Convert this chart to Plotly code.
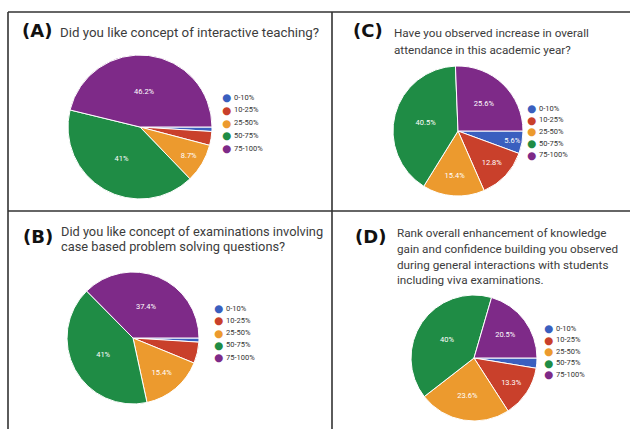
import plotly.graph_objects as go

W, H = 630, 429

categories = ["0-10%", "10-25%", "25-50%", "50-75%", "75-100%"]
colors = ["#3a5fbf", "#c9402b", "#ec9a2e", "#1f8c45", "#7e2a88"]

values_A = [1.0, 3.1, 8.7, 41.0, 46.2]
values_B = [1.0, 5.2, 15.4, 41.0, 37.4]
values_C = [5.6, 12.8, 15.4, 40.5, 25.6]
values_D = [2.6, 13.3, 23.6, 40.0, 20.5]

letter_A, letter_B, letter_C, letter_D = "(A)", "(B)", "(C)", "(D)"
title_A = ["Did you like concept of interactive teaching?"]
title_B = ["Did you like concept of examinations involving",
           "case based problem solving questions?"]
title_C = ["Have you observed increase in overall",
           "attendance in this academic year?"]
title_D = ["Rank overall enhancement of knowledge",
           "gain and confidence building you observed",
           "during general interactions with students",
           "including viva examinations."]


def px(x):
    return x / W


def py(y):
    return 1 - y / H


panels = [
    dict(v=values_A, letter=letter_A, title=title_A, box=(68, 212, 55, 199), lpos=(20, 31),
         tx=58, tys=[33], tsize=13.3, lgx=226, lgy=97, lgs=12.8),
    dict(v=values_B, letter=letter_B, title=title_B, box=(66, 200, 272, 404), lpos=(21, 236),
         tx=59, tys=[231.5, 246.5], tsize=12.8, lgx=218, lgy=308, lgs=12.3),
    dict(v=values_C, letter=letter_C, title=title_C, box=(393, 523, 66, 196), lpos=(351, 31),
         tx=392, tys=[33, 50], tsize=11.7, lgx=531, lgy=108, lgs=11.7),
    dict(v=values_D, letter=letter_D, title=title_D, box=(411, 537, 294, 422), lpos=(353, 236),
         tx=395, tys=[233, 249, 265, 280], tsize=11.7, lgx=548, lgy=328, lgs=11.5),
]

fig = go.Figure()
annotations = []

for p in panels:
    x0, x1, y0, y1 = p["box"]
    texts = [f"{v:g}%" if v >= 5.5 else "" for v in p["v"]]
    fig.add_trace(go.Pie(
        labels=categories, values=p["v"], text=texts, textinfo="text",
        sort=False, direction="clockwise", rotation=90,
        marker=dict(colors=colors, line=dict(color="white", width=1)),
        textposition="inside", insidetextorientation="horizontal",
        textfont=dict(color="white", size=7.5, family="Roboto"),
        domain=dict(x=[px(x0), px(x1)], y=[py(y1), py(y0)]),
        showlegend=False, hoverinfo="label+percent",
    ))
    lx, ly = p["lpos"]
    annotations.append(dict(x=px(lx), y=py(ly), xref="paper", yref="paper",
                            xanchor="left", yanchor="middle", showarrow=False,
                            text=f"<b>{p['letter']}</b>",
                            font=dict(family="DejaVu Sans", size=18, color="#111")))
    for line, ty in zip(p["title"], p["tys"]):
        annotations.append(dict(x=px(p["tx"]), y=py(ty), xref="paper", yref="paper",
                                xanchor="left", yanchor="middle", showarrow=False,
                                text=line,
                                font=dict(family="Roboto", size=p["tsize"], color="#3c3c3c")))
    for i, (cat, col) in enumerate(zip(categories, colors)):
        yy = p["lgy"] + i * p["lgs"]
        annotations.append(dict(x=px(p["lgx"]), y=py(yy), xref="paper", yref="paper",
                                xanchor="center", yanchor="middle", showarrow=False,
                                text="●", font=dict(size=10.5, color=col, family="DejaVu Sans")))
        annotations.append(dict(x=px(p["lgx"] + 6), y=py(yy), xref="paper", yref="paper",
                                xanchor="left", yanchor="middle", showarrow=False,
                                text=cat, font=dict(size=7.5, color="#333", family="Roboto")))

line_style = dict(color="#333", width=1.6)
shapes = [
    dict(type="line", xref="paper", yref="paper", x0=px(8), x1=1, y0=py(12), y1=py(12), line=line_style),
    dict(type="line", xref="paper", yref="paper", x0=px(8), x1=px(8), y0=py(12), y1=0, line=line_style),
    dict(type="line", xref="paper", yref="paper", x0=px(8), x1=1, y0=py(211), y1=py(211), line=line_style),
    dict(type="line", xref="paper", yref="paper", x0=px(332), x1=px(332), y0=py(12), y1=0, line=line_style),
]

fig.update_layout(
    width=W, height=H, margin=dict(l=0, r=0, t=0, b=0),
    paper_bgcolor="white", plot_bgcolor="white",
    annotations=annotations, shapes=shapes, showlegend=False,
)

fig.write_html("out.html", config={"displayModeBar": False},
               post_script="document.body.style.margin='0';document.body.style.overflow='hidden';")
